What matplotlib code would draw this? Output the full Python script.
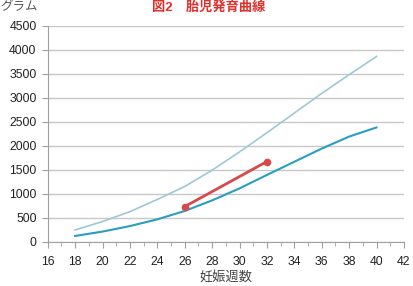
#!/usr/bin/env python3
''' Fetal growth curve (図2 胎児発育曲線)
'''

import numpy as np
import matplotlib
matplotlib.use('Agg')
from matplotlib import pyplot
from matplotlib.ticker import MultipleLocator

pyplot.rcParams['font.family'] = ['Liberation Sans', 'Noto Sans CJK JP', 'DejaVu Sans']

#
# data
#

weeks = [18, 20, 22, 24, 26, 28, 30, 32, 34, 36, 38, 40]
upper = [244, 420, 625, 880, 1150, 1490, 1870, 2270, 2680, 3090, 3480, 3860]
lower = [119, 210, 325, 465, 640, 860, 1110, 1390, 1665, 1940, 2190, 2380]

case_weeks = [26, 32]
case_weight = [730, 1670]

#
# plot
#

fig = pyplot.figure(figsize=(4.13, 2.86), dpi=100)
ax = fig.add_axes([0.1155, 0.155, 0.8625, 0.755])

ax.plot(weeks, upper, color='#9cc8d8', lw=1.2, solid_joinstyle='round')
ax.plot(weeks, lower, color='#2a9dc0', lw=1.5, solid_joinstyle='round')
ax.plot(case_weeks, case_weight, color='#d9494a', lw=2.0,
    marker='o', markersize=4.5)

ax.set_xlim(16, 42)
ax.set_ylim(0, 4500)
ax.xaxis.set_major_locator(MultipleLocator(2))
ax.xaxis.set_minor_locator(MultipleLocator(1))
ax.yaxis.set_major_locator(MultipleLocator(500))

ax.grid(axis='y', color='#c8c8c8', lw=1.0)
ax.set_axisbelow(True)
for s in ['top', 'right']:
    ax.spines[s].set_visible(False)
for s in ['left', 'bottom']:
    ax.spines[s].set_color('#a0a0a0')
    ax.spines[s].set_linewidth(0.8)

ax.tick_params(axis='both', which='both', color='#a0a0a0', labelsize=8.8,
    labelcolor='#222222')
ax.tick_params(axis='x', which='major', length=4, pad=6)
ax.tick_params(axis='x', which='minor', length=3)
ax.tick_params(axis='y', length=4, pad=4)

ax.set_xlabel('妊娠週数', fontsize=9.5, color='#444444', labelpad=3)
fig.text(0.0, 0.975, 'グラム', fontsize=9, color='#555555', va='center', ha='left')
fig.text(0.505, 0.975, '図2　胎児発育曲線', fontsize=9.5, color='#e0302c',
    va='center', ha='center', fontweight='bold')

fig.savefig('out.png', dpi=100)
